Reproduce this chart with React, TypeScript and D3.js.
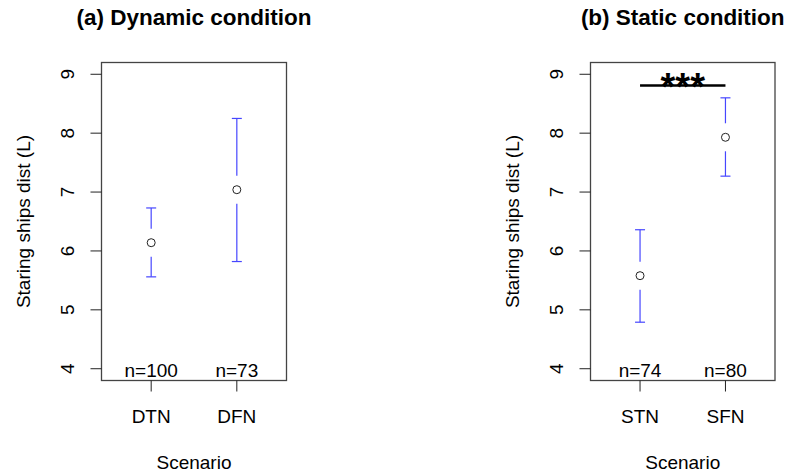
import React from "react";
import * as d3 from "d3";

// panel titles
const titles = ["(a) Dynamic condition", "(b) Static condition"];

// dynamic condition
const groupsA = ["DTN", "DFN"];
const meansA = [6.14, 7.04];
const lowerA = [5.56, 5.82];
const upperA = [6.73, 8.25];
const countsA = [100, 73];

// static condition
const groupsB = ["STN", "SFN"];
const meansB = [5.58, 7.93];
const lowerB = [4.79, 7.27];
const upperB = [6.36, 8.6];
const countsB = [74, 80];

// significance bar for the static panel
const sigLevelB = 8.81;
const sigLabelB = "***";

const yTicks = [4, 5, 6, 7, 8, 9];

const W = 788;
const H = 474;
const FONT = "'Liberation Sans', Arial, sans-serif";
const BAR = "#4646ff";

const Panel = ({ left, right, title, groups, means, lower, upper, counts, sig }) => {
  const top = 62.5;
  const bottom = 380.5;
  const x = d3.scaleLinear().domain([0.42, 2.58]).range([left, right]);
  const y = d3.scaleLinear().domain([3.8, 9.2]).range([bottom, top]);
  const cx = (left + right) / 2;
  const cy = (top + bottom) / 2;
  const gap = 14;
  const cap = 5;

  return (
    <g>
      <text x={cx} y={25} textAnchor="middle" fontSize={22.5} fontWeight="bold" fontFamily={FONT}>
        {title}
      </text>
      <rect x={left} y={top} width={right - left} height={bottom - top} fill="none" stroke="#444" strokeWidth={1.3} />

      {yTicks.map((t) => (
        <g key={t}>
          <line x1={left - 11} x2={left} y1={y(t)} y2={y(t)} stroke="#222" />
          <text
            transform={`translate(${left - 28},${y(t)}) rotate(-90)`}
            textAnchor="middle"
            fontSize={19}
            fontFamily={FONT}
          >
            {t}
          </text>
        </g>
      ))}
      <text
        transform={`translate(${left - 72},${cy}) rotate(-90)`}
        textAnchor="middle"
        fontSize={19}
        fontFamily={FONT}
      >
        Staring ships dist (L)
      </text>

      {groups.map((g, i) => {
        const px = x(i + 1);
        const py = y(means[i]);
        return (
          <g key={g}>
            <line x1={px} x2={px} y1={bottom} y2={bottom + 11} stroke="#222" />
            <text x={px} y={423} textAnchor="middle" fontSize={19} fontFamily={FONT}>
              {g}
            </text>
            <text x={px} y={377} textAnchor="middle" fontSize={19} fontFamily={FONT}>
              {"n=" + counts[i]}
            </text>
            <line x1={px} x2={px} y1={y(upper[i])} y2={py - gap} stroke={BAR} strokeWidth={1.2} />
            <line x1={px} x2={px} y1={py + gap} y2={y(lower[i])} stroke={BAR} strokeWidth={1.2} />
            <line x1={px - cap} x2={px + cap} y1={y(upper[i])} y2={y(upper[i])} stroke={BAR} strokeWidth={1.2} />
            <line x1={px - cap} x2={px + cap} y1={y(lower[i])} y2={y(lower[i])} stroke={BAR} strokeWidth={1.2} />
            <circle cx={px} cy={py} r={4} fill="none" stroke="#222" strokeWidth={1} />
          </g>
        );
      })}
      <text x={cx} y={469} textAnchor="middle" fontSize={19} fontFamily={FONT}>
        Scenario
      </text>

      {sig && (
        <g>
          <text x={cx} y={y(sig.level) + 15} textAnchor="middle" fontSize={38} fontWeight="bold" fontFamily={FONT}>
            {sig.label}
          </text>
          <line x1={x(1)} x2={x(2)} y1={y(sig.level)} y2={y(sig.level)} stroke="#000" strokeWidth={2.5} />
        </g>
      )}
    </g>
  );
};

export default function App() {
  return (
    <svg width={W} height={H} style={{ position: "absolute", left: 0, top: 0, background: "#fff" }}>
      <rect width={W} height={H} fill="#fff" />
      <Panel
        left={101.5}
        right={286.5}
        title={titles[0]}
        groups={groupsA}
        means={meansA}
        lower={lowerA}
        upper={upperA}
        counts={countsA}
        sig={null}
      />
      <Panel
        left={590.5}
        right={775}
        title={titles[1]}
        groups={groupsB}
        means={meansB}
        lower={lowerB}
        upper={upperB}
        counts={countsB}
        sig={{ level: sigLevelB, label: sigLabelB }}
      />
    </svg>
  );
}
